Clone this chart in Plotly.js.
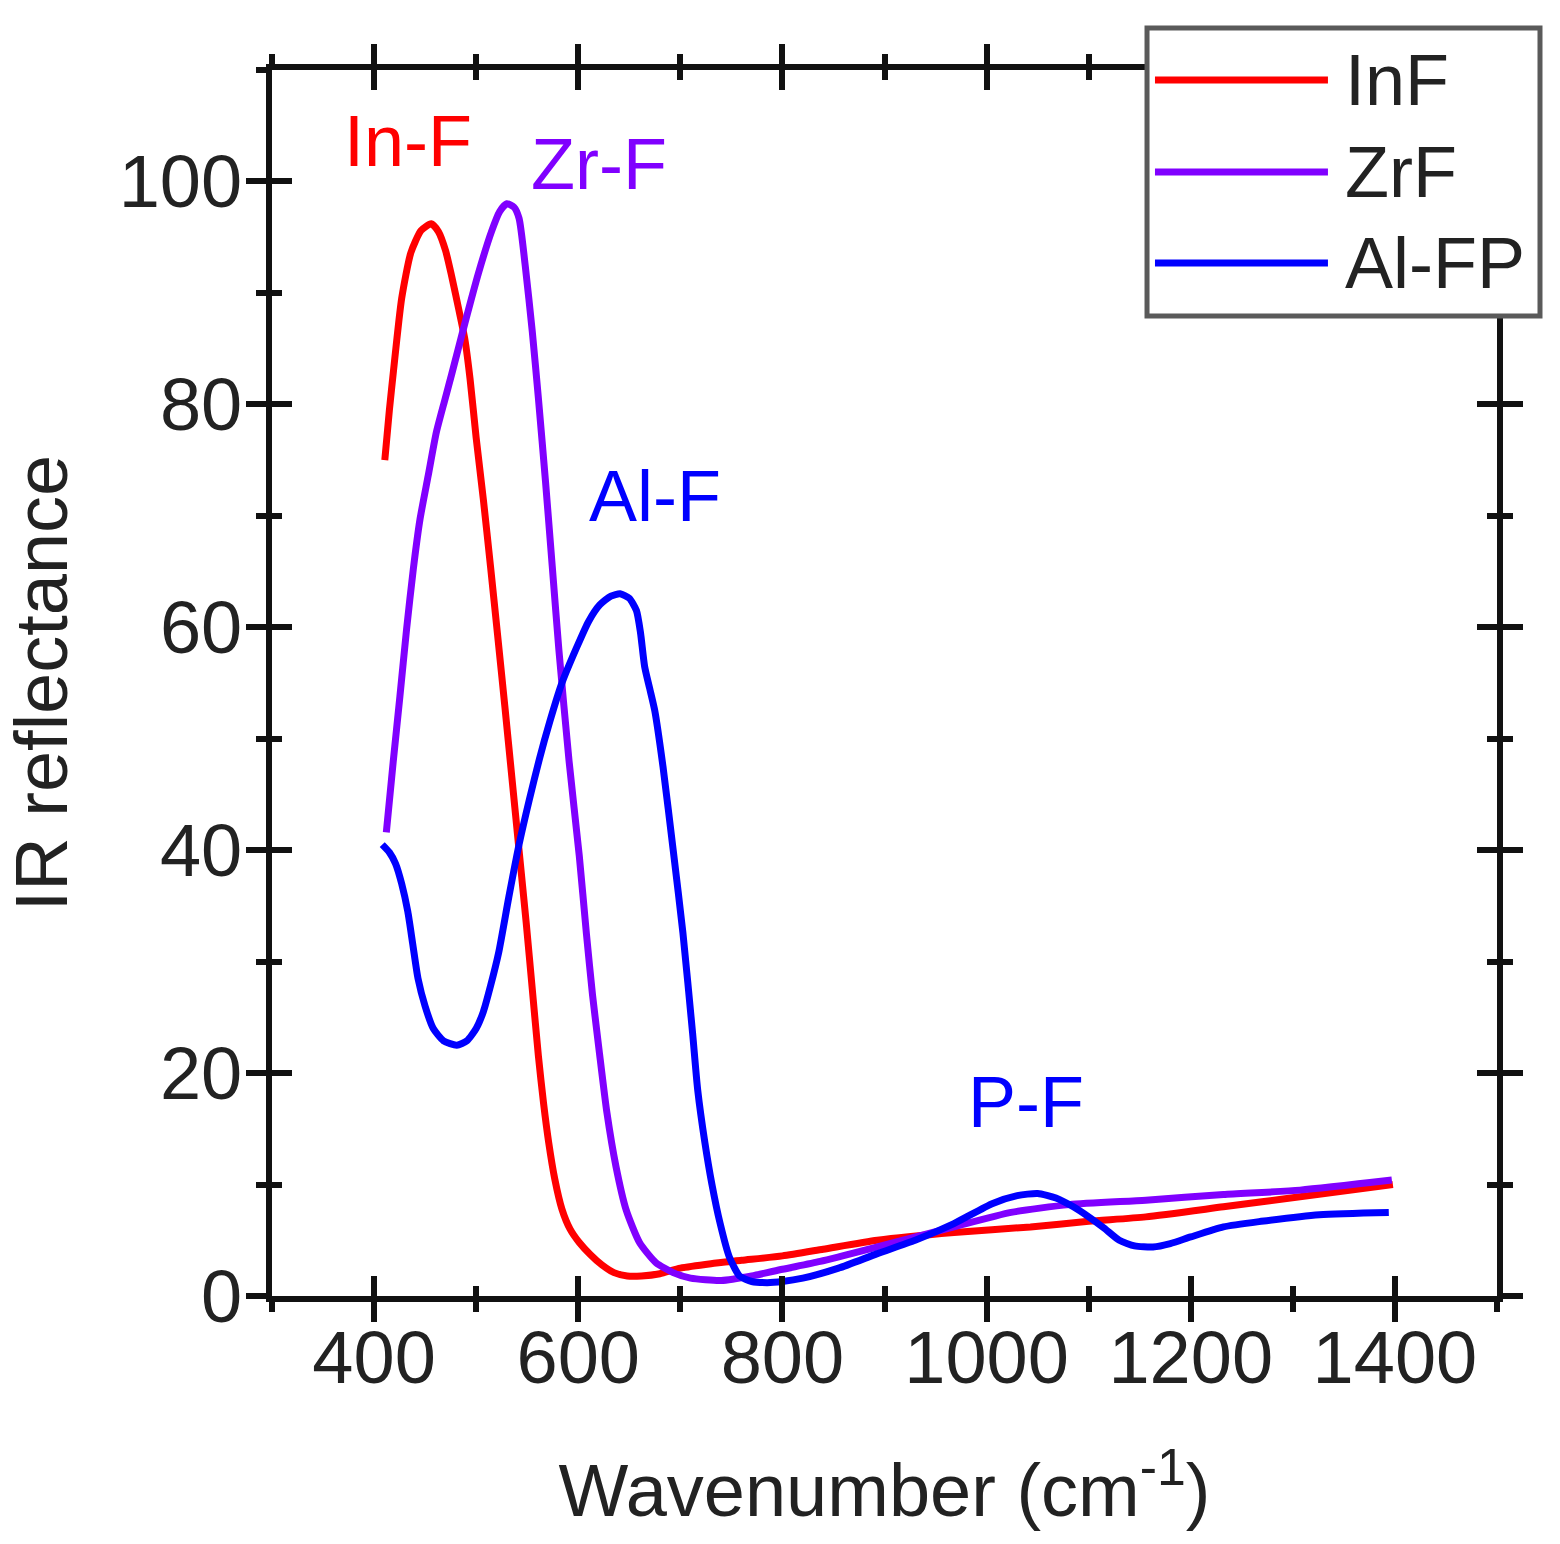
<!DOCTYPE html>
<html>
<head>
<meta charset="utf-8">
<script src="https://cdn.plot.ly/plotly-3.0.1.min.js"></script>
<style>html,body{margin:0;padding:0;background:#fff;}#chart{width:1560px;height:1544px;}</style>
</head>
<body>
<div id="chart"></div>
<script>
// ---- data ----
const seriesNames = ['InF', 'ZrF', 'Al-FP'];
const seriesColors = ['#ff0000', '#8000ff', '#0000ff'];

const inF_x = [410.5, 415, 419, 427, 436, 446, 456, 463, 470, 476, 483, 489, 494, 500, 507, 514, 521, 528, 535, 542, 549, 555, 561, 566, 571, 577, 584, 592, 601, 612, 623, 635, 648, 662, 680, 700, 730, 760, 800, 840, 893, 968, 1043, 1100, 1156, 1232, 1307, 1398];
const inF_y = [75, 79.5, 83, 89.5, 93.6, 95.6, 96.2, 95.5, 93.8, 91.5, 88.5, 85.8, 82.3, 77, 71.5, 65.5, 59.3, 53, 46.5, 40, 33.5, 27.5, 21.5, 17.3, 13.8, 10.5, 7.8, 6.0, 4.8, 3.7, 2.8, 2.1, 1.8, 1.8, 2.0, 2.5, 2.9, 3.2, 3.6, 4.2, 5.0, 5.7, 6.2, 6.7, 7.1, 8.0, 8.9, 10.0];

const zrF_x = [412, 418.7, 425.3, 431.8, 438.4, 445, 453, 461, 469.6, 476, 489, 502, 515, 523, 530, 537, 542, 548, 555, 561, 568, 574.5, 581, 591, 601, 608, 614, 620.5, 628, 637, 647, 660, 676, 693, 710, 740, 770, 800, 837, 893, 968, 1024, 1081, 1156, 1232, 1307, 1397];
const zrF_y = [41.6, 47.9, 53.8, 59.8, 65.2, 69.7, 73.6, 77.5, 80.5, 82.7, 87.3, 91.7, 95.5, 97.3, 98, 97.7, 96.7, 92.5, 86.5, 80.5, 73, 65.5, 58, 48, 39.5, 32.5, 27, 22, 16.5, 11.6, 7.7, 4.8, 3.0, 2.1, 1.6, 1.4, 1.8, 2.4, 3.1, 4.4, 6.2, 7.5, 8.2, 8.6, 9.1, 9.5, 10.4];

const alFP_x = [408, 415, 421, 427, 433, 438, 443, 450, 458, 468, 481, 491, 500, 507, 514, 522, 532, 542, 552, 562, 572, 584, 599, 610, 621, 632, 641, 650, 657, 661, 665, 670, 675, 683, 693, 702.5, 712, 717, 724, 731, 739, 748, 758, 770, 785, 800, 820, 855, 893, 930, 968, 1006, 1030, 1050, 1068, 1085, 1100, 1115, 1130, 1145, 1163, 1180, 1200, 1232, 1269, 1326, 1394];
const alFP_y = [40.5, 39.8, 38.8, 37, 34.5, 31.5, 28.5, 26, 24, 22.9, 22.5, 22.9, 24, 25.5, 27.8, 30.8, 35.8, 40.5, 44.5, 48.2, 51.5, 55, 58.3, 60.5, 62, 62.8, 63, 62.6, 61.5, 59.5, 56.5, 54.5, 52.5, 47.5, 40, 32.6, 23.6, 18.5, 13.8, 10, 6.5, 3.5, 1.8, 1.3, 1.2, 1.3, 1.6, 2.5, 3.8, 5.0, 6.5, 8.3, 9.0, 9.2, 8.8, 8.0, 7.1, 6.1, 5.0, 4.5, 4.4, 4.7, 5.3, 6.2, 6.7, 7.3, 7.5];

const peakLabels = ['In-F', 'Zr-F', 'Al-F', 'P-F'];
const peakLabelX = [433, 620, 675, 1039];
const peakLabelY = [103.6, 101.6, 71.8, 17.4];
const peakLabelColors = ['#ff0000', '#8000ff', '#0000ff', '#0000ff'];

const xTitle = 'Wavenumber (cm<sup>-1</sup>)';
const yTitle = 'IR reflectance';

// ---- build ----
const FONT = 'Liberation Sans, Arial, Helvetica, sans-serif';
const xs = [inF_x, zrF_x, alFP_x];
const ys = [inF_y, zrF_y, alFP_y];

const traces = xs.map((x, i) => ({
  type: 'scatter', mode: 'lines', name: seriesNames[i],
  x: x, y: ys[i],
  line: {color: seriesColors[i], width: 7, shape: 'spline', smoothing: 0.6},
  showlegend: false, hoverinfo: 'skip'
}));
// empty trace to host the overlay axes (inward tick halves)
traces.push({type: 'scatter', mode: 'lines', x: [], y: [], xaxis: 'x2', yaxis: 'y2', showlegend: false, hoverinfo: 'skip'});

const tickFont = {family: FONT, size: 74, color: '#222'};
const axCommon = {
  showline: true, linewidth: 6, linecolor: '#111', mirror: 'ticks',
  showgrid: false, zeroline: false, tickcolor: '#111', tickwidth: 6, ticklen: 20
};

// legend (drawn with shapes/annotations, built from the series arrays)
const lgX0 = 0.7143, lgX1 = 1.0351, lgY0 = 0.7993, lgY1 = 1.0343;
const lgRowY = [0.9918, 0.9168, 0.8426];
const shapes = [{
  type: 'rect', xref: 'paper', yref: 'paper', x0: lgX0, x1: lgX1, y0: lgY0, y1: lgY1,
  line: {color: '#5a5a5a', width: 5}, fillcolor: '#ffffff', layer: 'above'
}];
const annotations = [];
seriesNames.forEach((n, i) => {
  shapes.push({type: 'line', xref: 'paper', yref: 'paper', x0: 0.7208, x1: 0.862, y0: lgRowY[i], y1: lgRowY[i],
    line: {color: seriesColors[i], width: 7}, layer: 'above'});
  annotations.push({xref: 'paper', yref: 'paper', x: 0.874, y: lgRowY[i], xanchor: 'left', yanchor: 'middle',
    text: n, showarrow: false, font: {family: FONT, size: 72, color: '#222'}});
});
peakLabels.forEach((t, i) => {
  annotations.push({x: peakLabelX[i], y: peakLabelY[i], xref: 'x', yref: 'y', text: t, showarrow: false,
    xanchor: 'center', yanchor: 'middle', font: {family: FONT, size: 72, color: peakLabelColors[i]}});
});

const layout = {
  width: 1560, height: 1544,
  margin: {l: 272, r: 63, t: 70, b: 248},
  paper_bgcolor: '#fff', plot_bgcolor: '#fff',
  showlegend: false,
  xaxis: Object.assign({}, axCommon, {
    range: [300, 1500], tick0: 400, dtick: 200, ticks: 'outside',
    tickfont: tickFont, ticklabelstandoff: -28,
    minor: {dtick: 100, tick0: 300, ticks: 'outside', ticklen: 10, tickwidth: 6, tickcolor: '#111'},
    title: {text: xTitle, font: {family: FONT, size: 74, color: '#222'}, standoff: 68}
  }),
  yaxis: Object.assign({}, axCommon, {
    range: [0, 110], tick0: 0, dtick: 20, ticks: 'outside',
    tickfont: tickFont, ticklabelstandoff: -11,
    minor: {dtick: 10, tick0: 0, ticks: 'outside', ticklen: 10, tickwidth: 6, tickcolor: '#111'},
    title: {text: yTitle, font: {family: FONT, size: 74, color: '#222'}, standoff: 41}
  }),
  xaxis2: Object.assign({}, axCommon, {
    overlaying: 'x', anchor: 'y2', side: 'bottom',
    range: [300, 1500], tick0: 400, dtick: 200, ticks: 'inside', showticklabels: false,
    title: {text: ''},
    minor: {dtick: 100, tick0: 300, ticks: 'inside', ticklen: 10, tickwidth: 6, tickcolor: '#111'}
  }),
  yaxis2: Object.assign({}, axCommon, {
    overlaying: 'y', anchor: 'x2', side: 'left',
    range: [0, 110], tick0: 0, dtick: 20, ticks: 'inside', showticklabels: false,
    title: {text: ''},
    minor: {dtick: 10, tick0: 0, ticks: 'inside', ticklen: 10, tickwidth: 6, tickcolor: '#111'}
  }),
  shapes: shapes,
  annotations: annotations
};

Plotly.newPlot('chart', traces, layout, {staticPlot: true, displayModeBar: false});
</script>
</body>
</html>
